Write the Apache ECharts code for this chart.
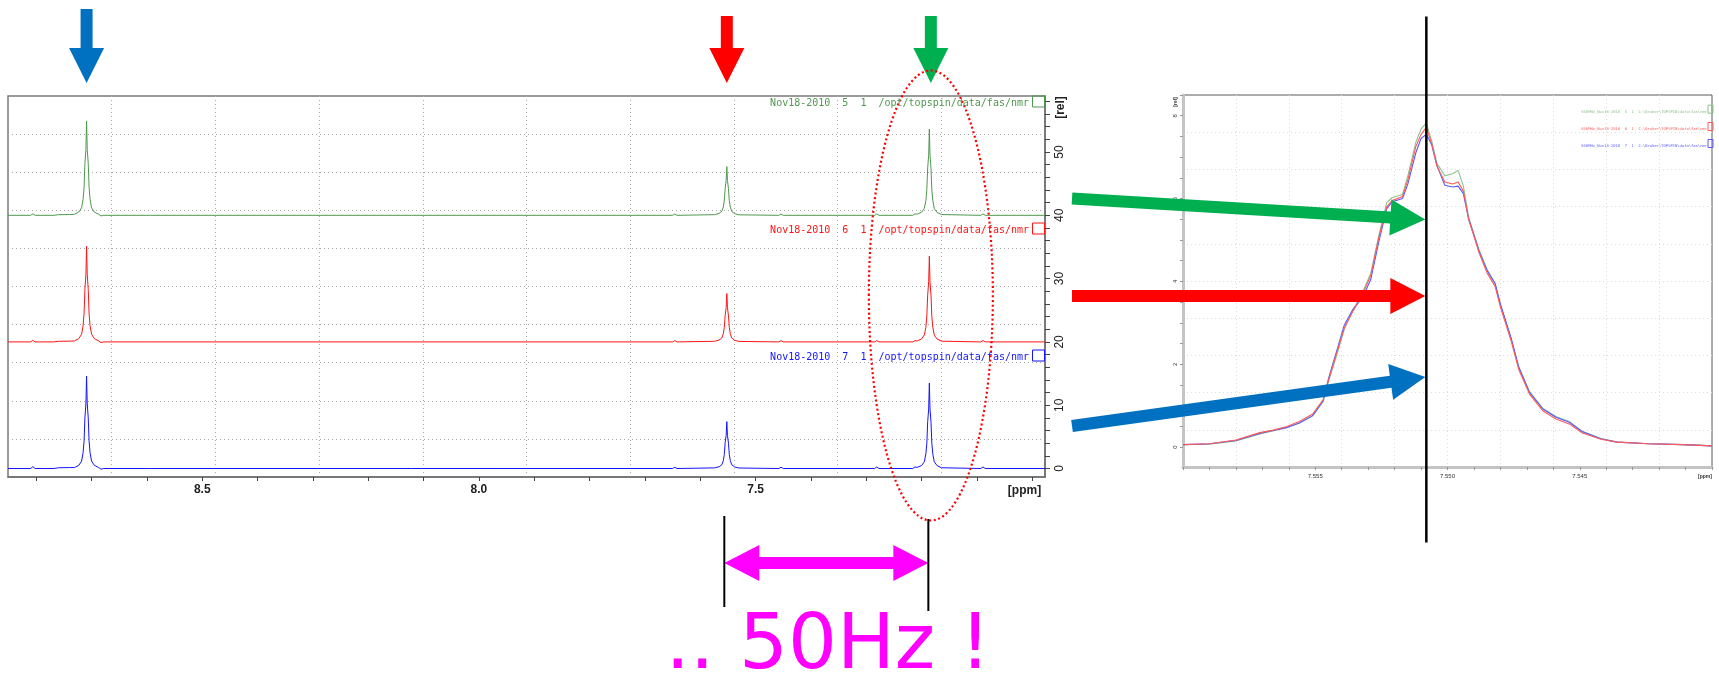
<!DOCTYPE html>
<html>
<head>
<meta charset="utf-8">
<script src="https://cdn.jsdelivr.net/npm/echarts@6/dist/echarts.min.js"></script>
<style>
  html, body { margin: 0; padding: 0; background: #ffffff; }
  #chart { width: 1719px; height: 674px; }
</style>
</head>
<body>
<div id="chart"></div>
<script>
// ---- full spectra (1H, ppm) : shared shift axis and one intensity list per experiment ----
const leftShift = [
  8.851, 8.810, 8.806, 8.802, 8.768, 8.760, 8.740,
  8.731, 8.723, 8.718, 8.7153, 8.7135, 8.712, 8.7102, 8.709, 8.7078, 8.706, 8.7045, 8.7027, 8.700, 8.695, 8.687,
  8.683, 8.678,
  8.600, 8.597, 8.594,
  7.650, 7.646, 7.642,
  7.574, 7.566, 7.561, 7.5583, 7.5565, 7.555, 7.5532, 7.552, 7.5508, 7.549, 7.5475, 7.5457, 7.543, 7.538, 7.530,
  7.458, 7.454, 7.450,
  7.285, 7.281, 7.277,
  7.216, 7.212,
  7.208, 7.200, 7.195, 7.1923, 7.1905, 7.189, 7.1872, 7.186, 7.1848, 7.183, 7.1815, 7.1797, 7.177, 7.172, 7.164,
  7.093, 7.089, 7.085,
  6.977
];
// expno 5 (green)
const trace5 = [
  0, 0, 0.25, 0, 0, 0.1, 0.12,
  0.15, 0.52, 1.19, 2.53, 4.47, 8.2, 10.4, 14.9, 10.4, 8.2, 4.47, 2.53, 1.19, 0.52, 0.15,
  -0.1, 0,
  0, 0.25, 0,
  0, 0.2, 0,
  0.1, 0.3, 0.65, 1.3, 2.4, 4.2, 5.5, 7.7, 5.5, 4.2, 2.3, 1.3, 0.6, 0.27, 0.08,
  0, 0.2, 0,
  0, 0.22, 0,
  0, 0.22,
  0.18, 0.48, 1.1, 2.3, 4.1, 7.5, 9.5, 13.6, 9.5, 7.4, 4.0, 2.3, 1.05, 0.45, 0.12,
  0, 0.22, 0,
  0
];
// expno 6 (red)
const trace6 = [
  0, 0, 0.25, 0, 0, 0.1, 0.12,
  0.15, 0.53, 1.21, 2.57, 4.53, 8.3, 10.6, 15.1, 10.6, 8.3, 4.53, 2.57, 1.21, 0.53, 0.15,
  -0.1, 0,
  0, 0.25, 0,
  0, 0.2, 0,
  0.1, 0.3, 0.62, 1.3, 2.3, 4.2, 5.4, 7.65, 5.4, 4.1, 2.3, 1.3, 0.6, 0.27, 0.08,
  0, 0.2, 0,
  0, 0.2, 0,
  0, 0.2,
  0.15, 0.48, 1.1, 2.3, 4.1, 7.4, 9.5, 13.55, 9.4, 7.4, 4.0, 2.3, 1.05, 0.45, 0.12,
  0, 0.22, 0,
  0
];
// expno 7 (blue)
const trace7 = [
  0, 0, 0.3, 0, 0, 0.12, 0.15,
  0.15, 0.51, 1.17, 2.48, 4.38, 8.0, 10.2, 14.6, 10.2, 8.0, 4.38, 2.48, 1.17, 0.51, 0.15,
  -0.1, 0,
  0, 0.25, 0,
  0, 0.2, 0,
  0.1, 0.28, 0.6, 1.25, 2.2, 4.1, 5.2, 7.4, 5.2, 4.0, 2.2, 1.25, 0.58, 0.26, 0.08,
  0, 0.2, 0,
  0, 0.25, 0,
  0, 0.25,
  0.18, 0.47, 1.08, 2.3, 4.0, 7.4, 9.4, 13.5, 9.4, 7.3, 4.0, 2.25, 1.05, 0.45, 0.12,
  0, 0.25, 0,
  0
];
const stackOffset = [40, 20, 0];
const spectrumNames = [
  'Nov18-2010  5  1  /opt/topspin/data/fas/nmr',
  'Nov18-2010  6  1  /opt/topspin/data/fas/nmr',
  'Nov18-2010  7  1  /opt/topspin/data/fas/nmr'
];
const ppmTicks = [7.0, 7.1, 7.2, 7.3, 7.4, 7.5, 7.6, 7.7, 7.8, 7.9, 8.0, 8.1, 8.2, 8.3, 8.4, 8.5, 8.6, 8.7, 8.8];
const ppmLabels = [7.5, 8.0, 8.5];
const relTicks = [0, 2, 4, 6, 8, 10, 12, 14, 16, 18, 20, 22, 24, 26, 28, 30, 32, 34, 36, 38, 40, 42, 44, 46, 48, 50, 52, 54, 56, 58];
const relLabels = [0, 10, 20, 30, 40, 50];
const peakPpm = [8.709, 7.552, 7.186];

// ---- expansion of the 7.55 ppm signal ----
const zoomShift = [
  7.5600, 7.5590, 7.5580, 7.5571, 7.5566, 7.5561, 7.5556, 7.5551, 7.5547, 7.5545,
  7.5542, 7.5539, 7.5536, 7.5532, 7.5529, 7.5526, 7.5523, 7.5521, 7.5517, 7.5515,
  7.5512, 7.5510, 7.5508, 7.5506, 7.5504, 7.5501, 7.5498, 7.5496, 7.5494, 7.5492,
  7.5488, 7.5485, 7.5482, 7.5480, 7.5476, 7.5473, 7.5469, 7.5464, 7.5459, 7.5454,
  7.5449, 7.5442, 7.5436, 7.5424, 7.5411, 7.5400
];
const zoom5 = [
  0.06, 0.07, 0.15, 0.32, 0.39, 0.46, 0.58, 0.75, 1.10, 1.58,
  2.20, 2.85, 3.28, 3.75, 4.20, 5.10, 5.90, 6.02, 6.10, 6.55,
  7.35, 7.68, 7.82, 7.40, 6.85, 6.55, 6.60, 6.68, 6.30, 5.55,
  4.75, 4.28, 3.95, 3.45, 2.62, 1.92, 1.34, 0.94, 0.74, 0.62,
  0.38, 0.21, 0.13, 0.08, 0.06, 0.03
];
const zoom6 = [
  0.06, 0.08, 0.17, 0.35, 0.41, 0.49, 0.62, 0.80, 1.15, 1.62,
  2.25, 2.88, 3.25, 3.70, 4.15, 5.05, 5.80, 5.95, 6.05, 6.45,
  7.25, 7.55, 7.72, 7.33, 6.78, 6.40, 6.35, 6.40, 6.18, 5.50,
  4.68, 4.20, 3.88, 3.38, 2.58, 1.86, 1.28, 0.88, 0.68, 0.56,
  0.34, 0.19, 0.12, 0.08, 0.06, 0.03
];
const zoom7 = [
  0.06, 0.08, 0.16, 0.33, 0.40, 0.47, 0.58, 0.76, 1.12, 1.65,
  2.30, 2.95, 3.30, 3.62, 4.05, 4.95, 5.75, 5.92, 6.00, 6.35,
  7.10, 7.45, 7.55, 7.30, 6.80, 6.32, 6.28, 6.30, 6.12, 5.50,
  4.72, 4.26, 3.95, 3.45, 2.65, 1.92, 1.32, 0.92, 0.72, 0.60,
  0.37, 0.20, 0.12, 0.08, 0.06, 0.03
];
const zoomNames = [
  '850MHz_Nov18-2010  5  1  C:\\Bruker\\TOPSPIN\\data\\fas\\nmr',
  '850MHz_Nov18-2010  6  1  C:\\Bruker\\TOPSPIN\\data\\fas\\nmr',
  '850MHz_Nov18-2010  7  1  C:\\Bruker\\TOPSPIN\\data\\fas\\nmr'
];
const zoomPpmTicks = [7.540, 7.541, 7.542, 7.543, 7.544, 7.545, 7.546, 7.547, 7.548, 7.549, 7.550,
                      7.551, 7.552, 7.553, 7.554, 7.555, 7.556, 7.557, 7.558, 7.559, 7.560];
const zoomPpmLabels = [7.545, 7.550, 7.555];
const zoomRelTicks = [0, 0.5, 1, 1.5, 2, 2.5, 3, 3.5, 4, 4.5, 5, 5.5, 6, 6.5, 7, 7.5, 8, 8.5];
const zoomRelLabels = [0, 2, 4, 6, 8];
const markerPpm = 7.5508;

const traceColors = ['#4f984f', '#ff1414', '#1414ff'];
const zoomColors = ['#8cc28c', '#ff5a5a', '#5a5aff'];

const pairs = (xs, ys, off) => xs.map((x, i) => [x, ys[i] + off]);

const chart = echarts.init(document.getElementById('chart'), null, { renderer: 'canvas' });

// helper axis drawing the 10 x 10 dotted frame grid
function frameAxis(gridIndex, position, color) {
  return {
    gridIndex, type: 'value', min: 0, max: 10, interval: 1, position,
    axisLine: { show: false, onZero: false }, axisTick: { show: false }, axisLabel: { show: false },
    splitLine: { show: true, showMinLine: false, showMaxLine: false,
      lineStyle: { color, width: 1, type: [1, 3] } }
  };
}

const option = {
  animation: false,
  backgroundColor: '#ffffff',
  grid: [
    { left: 8, top: 96, width: 1037, height: 381, show: true, borderColor: '#7a7a7a', borderWidth: 1.5 },
    { left: 1183, top: 95, width: 529, height: 372, show: true, borderColor: '#5a5a5a', borderWidth: 1 }
  ],
  xAxis: [
    { gridIndex: 0, type: 'value', inverse: true, min: 6.977, max: 8.851, position: 'bottom',
      axisLine: { show: true, onZero: false, lineStyle: { color: '#6e6e6e', width: 1.5 } },
      axisTick: { show: true, customValues: ppmTicks, length: 4, lineStyle: { color: '#444' } },
      axisLabel: { customValues: ppmLabels, formatter: v => v.toFixed(1), fontFamily: 'Liberation Sans',
        fontWeight: 'bold', fontSize: 12, color: '#222', margin: 7 },
      splitLine: { show: false } },
    frameAxis(0, 'top', '#aaaaaa'),
    { gridIndex: 1, type: 'value', inverse: true, min: 7.540, max: 7.560, position: 'bottom',
      axisLine: { show: true, onZero: false, lineStyle: { color: '#c4c4c4', width: 3 } },
      axisTick: { show: true, customValues: zoomPpmTicks, length: 3, lineStyle: { color: '#999' } },
      axisLabel: { customValues: zoomPpmLabels, formatter: v => v.toFixed(3), fontFamily: 'Liberation Sans',
        fontSize: 6, color: '#333', margin: 6 },
      splitLine: { show: false } },
    frameAxis(1, 'top', '#dcdcdc')
  ],
  yAxis: [
    { gridIndex: 0, type: 'value', min: -1.34, max: 58.85, position: 'right',
      axisLine: { show: true, onZero: false, lineStyle: { color: '#6e6e6e', width: 1.5 } },
      axisTick: { show: true, inside: false, customValues: relTicks, length: 5, lineStyle: { color: '#444' } },
      axisLabel: { customValues: relLabels, formatter: v => String(v), rotate: 90, fontFamily: 'Liberation Sans',
        fontSize: 12, color: '#222', margin: 9 },
      splitLine: { show: false } },
    frameAxis(0, 'left', '#aaaaaa'),
    { gridIndex: 1, type: 'value', min: -0.48, max: 8.5, position: 'left',
      axisLine: { show: true, onZero: false, lineStyle: { color: '#c4c4c4', width: 3 } },
      axisTick: { show: true, customValues: zoomRelTicks, length: 3, lineStyle: { color: '#999' } },
      axisLabel: { customValues: zoomRelLabels, formatter: v => String(v), rotate: 90, fontFamily: 'Liberation Sans',
        fontSize: 6, color: '#333', margin: 5 },
      splitLine: { show: false } },
    frameAxis(1, 'right', '#dcdcdc')
  ],
  series: [
    { type: 'line', xAxisIndex: 0, yAxisIndex: 0, data: pairs(leftShift, trace5, stackOffset[0]),
      symbol: 'none', silent: true, lineStyle: { color: traceColors[0], width: 1 } },
    { type: 'line', xAxisIndex: 0, yAxisIndex: 0, data: pairs(leftShift, trace6, stackOffset[1]),
      symbol: 'none', silent: true, lineStyle: { color: traceColors[1], width: 1 } },
    { type: 'line', xAxisIndex: 0, yAxisIndex: 0, data: pairs(leftShift, trace7, stackOffset[2]),
      symbol: 'none', silent: true, lineStyle: { color: traceColors[2], width: 1 } },
    { type: 'line', xAxisIndex: 2, yAxisIndex: 2, data: pairs(zoomShift, zoom5, 0),
      symbol: 'none', silent: true, lineStyle: { color: zoomColors[0], width: 1.1 } },
    { type: 'line', xAxisIndex: 2, yAxisIndex: 2, data: pairs(zoomShift, zoom7, 0),
      symbol: 'none', silent: true, lineStyle: { color: zoomColors[2], width: 1.1 } },
    { type: 'line', xAxisIndex: 2, yAxisIndex: 2, data: pairs(zoomShift, zoom6, 0),
      symbol: 'none', silent: true, lineStyle: { color: zoomColors[1], width: 1.1 } }
  ]
};
chart.setOption(option);

// ---- annotations ----
const px = (seriesIndex, x, y) => chart.convertToPixel({ seriesIndex }, [x, y]);
const peakX = peakPpm.map(p => px(2, p, 0)[0]);
const markerX = px(3, markerPpm, 0)[0];

function downArrow(cx, top, color) {
  return { type: 'polygon', z: 100, silent: true,
    shape: { points: [[cx - 6, top], [cx + 6, top], [cx + 6, 48], [cx + 17.5, 48], [cx, 83], [cx - 17.5, 48], [cx - 6, 48]] },
    style: { fill: color } };
}
function slantArrow(tail, tip, color) {
  const dx = tip[0] - tail[0], dy = tip[1] - tail[1];
  const L = Math.hypot(dx, dy), ux = dx / L, uy = dy / L, nx = -uy, ny = ux;
  const headLen = 35, s = 6, h = 18;
  const bx = tip[0] - ux * headLen, by = tip[1] - uy * headLen;
  return { type: 'polygon', z: 120, silent: true,
    shape: { points: [
      [tail[0] + nx * s, tail[1] + ny * s], [bx + nx * s, by + ny * s], [bx + nx * h, by + ny * h], tip,
      [bx - nx * h, by - ny * h], [bx - nx * s, by - ny * s], [tail[0] - nx * s, tail[1] - ny * s]] },
    style: { fill: color } };
}
function doubleArrow(xL, xR, y, color) {
  const hl = 35, hh = 18, s = 6;
  return { type: 'polygon', z: 100, silent: true,
    shape: { points: [[xL, y], [xL + hl, y - hh], [xL + hl, y - s], [xR - hl, y - s], [xR - hl, y - hh], [xR, y],
      [xR - hl, y + hh], [xR - hl, y + s], [xL + hl, y + s], [xL + hl, y + hh]] },
    style: { fill: color } };
}
function vline(x, y1, y2, width) {
  return { type: 'line', z: 110, silent: true, shape: { x1: x, y1, x2: x, y2 },
    style: { stroke: '#000', lineWidth: width } };
}
function label(text, x, y, opts) {
  return Object.assign({ type: 'text', z: 105, silent: true, x, y,
    style: Object.assign({ text, x: 0, y: 0, align: 'center', verticalAlign: 'middle' }, opts.style) },
    opts.el || {});
}

const legendY = [103, 230, 357];
const zoomLegendY = [111.7, 129, 146];
const graphics = [];

spectrumNames.forEach((name, i) => {
  graphics.push(label(name, 1029, legendY[i], { style: {
    align: 'right', fill: traceColors[i], fontFamily: 'DejaVu Sans Mono', fontSize: 10 } }));
  graphics.push({ type: 'rect', z: 105, silent: true,
    shape: { x: 1032.5, y: legendY[i] - 7, width: 12, height: 11 },
    style: { fill: 'none', stroke: traceColors[i], lineWidth: 1 } });
});
zoomNames.forEach((name, i) => {
  graphics.push(label(name, 1707, zoomLegendY[i], { style: {
    align: 'right', fill: zoomColors[i], fontFamily: 'DejaVu Sans Mono', fontSize: 3.8 } }));
  graphics.push({ type: 'rect', z: 105, silent: true,
    shape: { x: 1708, y: zoomLegendY[i] - 6.5, width: 5, height: 8 },
    style: { fill: 'none', stroke: zoomColors[i], lineWidth: 1 } });
});

graphics.push(label('[ppm]', 1024.5, 491, { style: { fill: '#222', fontFamily: 'Liberation Sans', fontWeight: 'bold', fontSize: 12 } }));
graphics.push(label('[rel]', 1061, 107.5, { style: { fill: '#222', fontFamily: 'Liberation Sans', fontWeight: 'bold', fontSize: 12 },
  el: { rotation: Math.PI / 2 } }));
graphics.push(label('[ppm]', 1705, 477, { style: { fill: '#333', fontFamily: 'Liberation Sans', fontWeight: 'bold', fontSize: 5 } }));
graphics.push(label('[rel]', 1176, 102, { style: { fill: '#333', fontFamily: 'Liberation Sans', fontWeight: 'bold', fontSize: 5 },
  el: { rotation: Math.PI / 2 } }));

// arrows pointing at the three signals
graphics.push(downArrow(peakX[0], 9, '#0070c0'));
graphics.push(downArrow(peakX[1], 16, '#ff0000'));
graphics.push(downArrow(peakX[2] + 1.5, 16, '#00b050'));

// dotted ellipse round the 7.19 ppm signal
graphics.push({ type: 'ellipse', z: 100, silent: true,
  shape: { cx: peakX[2] + 1.5, cy: 295.5, rx: 62, ry: 225 },
  style: { fill: 'none', stroke: '#ff0000', lineWidth: 2.2, lineDash: [2, 2.6] } });

// separation of the two signals
graphics.push(vline(peakX[1] - 2.5, 516, 607, 2));
graphics.push(vline(peakX[2] - 1, 519, 611, 2));
graphics.push(doubleArrow(peakX[1] - 2.5, peakX[2] - 1, 563, '#ff00ff'));
graphics.push(label('.. 50Hz !', 665.5, 648, { style: { align: 'left', fill: '#ff00ff', fontFamily: 'DejaVu Sans', fontSize: 77 } }));

// marker through the expanded maximum and the arrows aimed at it
graphics.push(vline(markerX, 16.5, 542.5, 2.5));
graphics.push(slantArrow([1072, 198.5], [markerX - 1, 219.5], '#00b050'));
graphics.push(slantArrow([1072, 296], [markerX - 1, 296], '#ff0000'));
graphics.push(slantArrow([1072, 426], [markerX - 1, 377], '#0070c0'));

chart.setOption({ graphic: graphics });
</script>
</body>
</html>
